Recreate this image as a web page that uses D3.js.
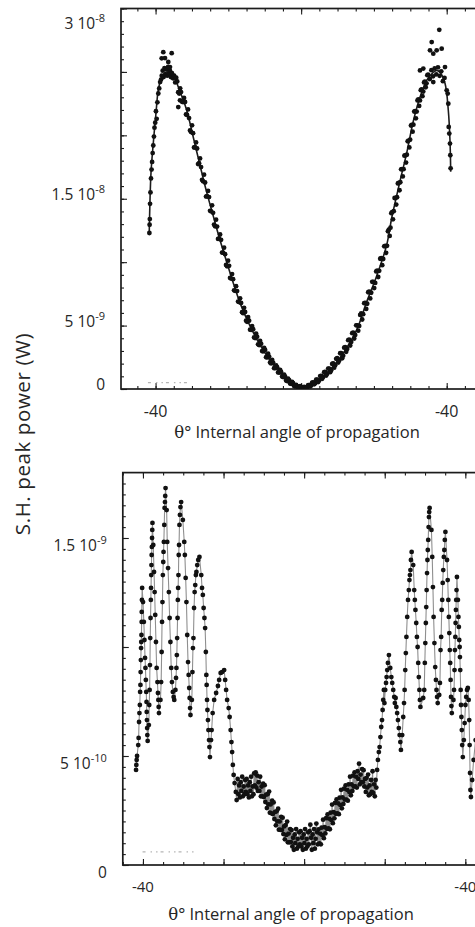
<!DOCTYPE html>
<html>
<head>
<meta charset="utf-8">
<script src="https://cdn.jsdelivr.net/npm/d3@7"></script>
<style>
  html, body { margin: 0; padding: 0; background: #fff; overflow: hidden; }
  svg { display: block; }
  text { font-family: "Open Sans", sans-serif; fill: #262626; }
</style>
</head>
<body>
<svg id="chart" width="475" height="927"></svg>
<script>
// ---------------- data ----------------
// Angle tick labels (both ends of the scan carry the same printed label)
const xTickValues = [-40, 40];
const xTickLabels = ["-40", "-40"];

// Upper panel: power in units of 1e-9 W
const upperUnit = 1e-9;
const upperYTickValues = [0, 5, 15, 30];
const upperYTickLabels = [["0", ""], ["5 10", "-9"], ["1.5 10", "-8"], ["3 10", "-8"]];

// fitted curve
const upperFitAngle = [-41.73,-41.26,-40.63,-39.89,-39.26,-38.32,-36.95,-35.13,-33.76,-31.45,-29.64,-27.80,-25.96,-24.14,-22.30,-20.46,-18.65,-16.80,-14.06,-11.31,-7.65,-3.97,-1.22,1.06,4.27,7.93,11.58,15.27,18.01,20.76,23.51,24.88,25.79,27.16,29.00,30.82,32.66,34.50,36.31,37.24,38.16,39.53,40.44,40.90,41.10];
const upperFitPower = [12.45,17.02,19.38,21.74,23.56,24.59,24.99,24.73,23.81,21.98,19.85,17.65,15.52,13.63,11.74,10.02,8.36,6.79,4.98,3.49,1.91,0.73,0.18,0.06,0.60,1.52,2.83,4.67,6.87,8.91,11.35,13.48,14.66,16.39,18.60,21.11,23.00,24.34,24.97,25.12,24.97,24.10,21.98,19.61,17.12];

// measured points [angle, power]
const upperMeasured = [
  [-41.70,12.30],[-41.64,12.95],[-41.58,13.40],[-41.52,14.60],[-41.40,15.50],[-41.26,16.60],[-41.10,17.30],[-40.95,17.90],[-40.80,18.60],[-40.63,19.20],[-40.45,19.90],[-40.30,20.60],[-40.10,21.00],[-39.90,21.90],[-39.70,21.30],[-39.50,22.60],[-39.25,23.30],[-39.00,23.70],[-38.75,24.20],[-38.50,24.40],[-38.30,24.70],[-38.05,25.10],[-37.80,24.60],[-37.55,25.30],[-37.30,24.80],[-37.05,25.20],[-36.80,24.70],[-36.55,25.40],[-36.30,24.90],[-36.05,25.10],[-35.80,24.60],[-35.50,24.90],[-35.20,24.50],[-34.90,24.70],
  [-38.32,26.07],[-37.88,26.56],[-37.41,26.09],[-36.51,25.78],[-36.04,25.38],[-35.57,26.48],[-33.76,22.23],[-33.29,22.76],
  [-34.60,24.17],[-34.05,24.25],[-33.50,23.30],[-33.00,23.41],[-32.45,22.62],[-31.90,22.63],[-31.35,21.61],[-30.80,21.36],[-30.25,20.26],[-29.70,20.17],[-29.15,19.06],[-28.60,18.96],[-28.05,17.80],[-27.50,17.50],[-26.95,16.37],[-26.40,16.28],[-25.85,15.21],[-25.30,15.13],[-24.75,14.01],[-24.20,13.89],[-23.65,12.83],[-23.10,12.81],[-22.55,11.85],[-22.00,11.76],[-21.45,10.75],[-20.90,10.63],[-20.35,9.67],[-19.80,9.71],[-19.25,8.71],[-18.70,8.66],[-18.15,7.74],[-17.60,7.72],[-17.05,6.85],[-16.50,6.79],[-15.95,5.98],[-15.40,6.07],[-14.85,5.30],[-14.30,5.39],[-13.75,4.66],[-13.20,4.71],[-12.65,4.02],[-12.10,4.12],[-11.55,3.47],[-11.00,3.56],[-10.45,2.97],[-9.90,3.08],[-9.35,2.49],[-8.80,2.56],[-8.25,2.02],[-7.70,2.08],[-7.15,1.65],[-6.60,1.72],[-6.05,1.30],[-5.50,1.34],[-4.95,0.94],[-4.40,0.97],[-3.85,0.63],[-3.30,0.70],[-2.75,0.41],[-2.20,0.46],[-1.65,0.21],[-1.10,0.23],[-0.55,0.10],[0.00,0.16],
  [0.55,0.06],[1.10,0.11],[1.65,0.11],[2.20,0.31],[2.75,0.28],[3.30,0.52],[3.85,0.45],[4.40,0.73],[4.95,0.67],[5.50,1.03],[6.05,0.95],[6.60,1.34],[7.15,1.20],[7.70,1.61],[8.25,1.48],[8.80,2.01],[9.35,1.88],[9.90,2.43],[10.45,2.24],[11.00,2.82],[11.55,2.62],[12.10,3.29],[12.65,3.16],[13.20,3.89],[13.75,3.71],[14.30,4.44],[14.85,4.26],[15.40,5.02],[15.95,4.97],[16.50,5.96],[17.05,5.90],[17.60,6.79],[18.15,6.72],[18.70,7.68],[19.25,7.59],[19.80,8.45],[20.35,8.36],[20.90,9.33],[21.45,9.32],[22.00,10.31],[22.55,10.25],[23.10,11.29],[23.60,11.29],[24.10,12.57],[24.55,12.72],[25.00,13.94],[25.45,14.02],[25.90,15.05],[26.35,15.12],[26.80,16.24],[27.25,16.30],[27.70,17.34],[28.15,17.33],[28.60,18.42],[29.05,18.47],[29.50,19.59],[29.95,19.66],[30.40,20.83],[30.85,20.84],[31.30,21.90],[31.75,21.87],[32.20,22.83],[32.65,22.75],[33.10,23.62],[33.55,23.45],[34.00,24.23],[34.45,24.10],[34.90,24.78],[35.35,24.44],[35.80,25.14],[36.25,24.65],[36.70,25.28],[37.15,24.81],[37.60,25.36],[38.05,24.69],[38.50,25.05],[38.95,24.27],[39.40,24.53],
  [32.66,25.12],[33.57,25.26],[35.41,26.70],[35.88,27.35],[36.31,26.44],[36.31,24.20],[37.25,26.70],[37.96,28.32],[38.62,26.83],[39.53,25.38],
  [40.00,23.55],[40.27,23.29],[40.44,22.50],[40.55,20.66],[40.71,20.14],[40.90,19.35],[40.99,18.43],[41.08,17.40]
];

// intermediate samples along both branches
const upperMeasuredMid = [
  [-34.33,24.54],[-33.78,23.40],[-33.25,23.71],[-32.73,22.64],[-32.18,22.95],[-31.63,21.65],[-31.08,22.04],[-30.53,20.39],[-29.98,20.79],[-29.43,19.04],[-28.88,19.44],[-28.33,17.73],[-27.78,18.18],[-27.23,16.49],[-26.68,16.90],[-26.13,15.17],[-25.58,15.62],[-25.03,14.05],[-24.48,14.48],[-23.93,12.96],[-23.38,13.35],[-22.83,11.83],[-22.28,12.18],[-21.73,10.76],[-21.18,11.14],[-20.63,9.78],[-20.08,10.12],[-19.53,8.76],[-18.98,9.06],[-18.43,7.78],[-17.88,8.11],[-17.33,6.89],[-16.78,7.15],[-16.23,6.06],[-15.68,6.40],[-15.13,5.39],[-14.58,5.67],[-14.03,4.68],[-13.48,4.96],[-12.93,4.07],[-12.38,4.37],[-11.83,3.52],[-11.28,3.79],[-10.73,2.99],[-10.18,3.25],[-9.63,2.51],[-9.08,2.78],[-8.53,2.09],[-7.98,2.30],[-7.43,1.64],[-6.88,1.86],[-6.33,1.31],[-5.78,1.51],[-5.23,0.98],[-4.68,1.14],[-4.13,0.67],[-3.58,0.81],[-3.03,0.43],[-2.48,0.56],[-1.93,0.23],[-1.38,0.32],[-0.83,0.08],[-0.28,0.22],
  [0.28,0.05],[0.83,0.16],[1.38,0.05],[1.93,0.31],[2.48,0.20],[3.03,0.51],[3.58,0.37],[4.13,0.73],[4.68,0.55],[5.23,1.02],[5.78,0.80],[6.33,1.32],[6.88,1.06],[7.43,1.61],[7.98,1.33],[8.53,1.98],[9.08,1.68],[9.63,2.38],[10.18,2.08],[10.73,2.82],[11.28,2.42],[11.83,3.26],[12.38,2.93],[12.93,3.85],[13.48,3.43],[14.03,4.40],[14.58,3.98],[15.13,5.02],[15.68,4.60],[16.23,5.84],[16.78,5.48],[17.33,6.77],[17.88,6.31],[18.43,7.63],[18.98,7.14],[19.53,8.45],[20.08,7.96],[20.63,9.27],[21.18,8.83],[21.73,10.27],[22.28,9.76],[22.83,11.25],[23.35,10.74],[23.85,12.43],[24.33,12.07],[24.78,13.86],[25.23,13.38],[25.68,15.06],[26.13,14.54],[26.58,16.21],[27.03,15.67],[27.48,17.32],[27.93,16.76],[28.38,18.40],[28.83,17.85],[29.28,19.53],[29.73,19.05],[30.18,20.77],[30.63,20.29],[31.08,21.87],[31.53,21.34],[31.98,22.75],[32.43,22.32],[32.88,23.56],[33.33,23.09],[33.78,24.17],[34.23,23.79],[34.68,24.74]
];

// faint reference dashes near the floor: [from angle, to angle, level]
const upperFloor = [-42.1, -30.3, 0.5];

// Lower panel: power in units of 1e-10 W
const lowerUnit = 1e-10;
const lowerYTickValues = [0, 5, 15];
const lowerYTickLabels = [["0", ""], ["5 10", "-10"], ["1.5 10", "-9"]];

// angular scan [angle, power], in scan order
const lowerScan = [
  [-41.71,4.36],[-41.64,4.59],[-41.56,4.82],[-41.46,5.00],[-41.17,5.50],[-41.07,5.83],[-40.97,6.56],[-40.87,6.97],[-40.77,7.34],[-40.70,7.94],[-40.62,8.26],[-40.57,8.85],[-40.52,9.40],[-40.47,9.95],[-40.42,10.23],[-40.37,10.55],[-40.32,11.15],[-40.30,11.61],[-40.25,12.16],[-40.20,12.71],
  [-39.98,12.06],[-39.78,11.15],[-39.63,10.32],[-39.48,9.50],[-39.38,9.04],[-39.28,8.49],[-39.18,7.94],[-39.11,7.48],[-39.06,7.02],[-39.01,6.65],[-38.96,6.28],[-38.91,5.96],[-38.83,5.69],
  [-38.54,6.42],[-38.44,7.34],[-38.34,8.03],[-38.26,9.17],[-38.19,10.41],[-38.11,11.33],[-38.04,12.16],[-37.99,12.71],[-37.94,13.30],[-37.89,13.76],[-37.84,14.22],[-37.79,14.59],[-37.74,15.00],[-37.69,15.37],[-37.64,15.69],
  [-37.44,14.68],[-37.25,13.44],[-37.10,12.52],[-36.95,11.47],[-36.77,10.23],[-36.60,9.04],[-36.40,8.39],[-36.28,7.89],[-36.18,7.57],[-36.10,7.25],[-36.03,6.97],
  [-35.66,7.57],[-35.48,8.39],[-35.36,9.77],[-35.26,11.15],[-35.16,12.06],[-35.06,13.30],[-34.96,13.90],[-34.89,14.36],[-34.81,14.82],[-34.71,15.60],[-34.62,16.38],[-34.54,16.65],[-34.47,16.93],[-34.39,17.29],
  [-34.12,16.28],[-33.97,14.82],[-33.77,13.62],[-33.57,12.52],[-33.38,11.33],[-33.18,10.23],[-32.98,9.04],[-32.80,8.39],[-32.58,7.94],[-32.38,7.71],[-32.23,7.57],
  [-31.94,8.03],[-31.79,8.58],[-31.69,9.04],[-31.59,9.63],[-31.51,10.41],[-31.41,11.33],[-31.34,12.16],[-31.27,12.71],[-31.19,13.30],[-31.12,14.22],[-31.04,14.68],[-30.94,15.60],[-30.82,16.06],[-30.69,16.42],[-30.52,16.65],
  [-30.10,15.83],[-29.75,14.82],[-29.60,14.22],[-29.40,13.17],[-29.21,12.06],[-29.01,10.55],[-28.81,9.31],[-28.66,8.72],[-28.51,8.12],[-28.41,7.66],[-28.31,7.20],[-28.21,6.88],
  [-27.87,7.57],[-27.72,8.85],[-27.59,9.95],[-27.47,10.41],[-27.32,11.79],[-27.17,12.52],[-27.02,12.84],[-26.87,13.30],[-26.73,13.44],[-26.53,13.76],[-26.28,13.99],[-25.98,14.13],
  [-25.53,13.30],[-25.34,12.71],[-25.14,12.39],[-24.94,11.79],[-24.74,11.33],[-24.57,10.87],[-24.39,9.77],[-24.27,8.72],[-24.19,8.26],[-24.09,7.57],[-24.00,7.11],[-23.87,6.65],[-23.75,6.19],[-23.60,5.73],[-23.50,5.41],[-23.37,4.95],
  [-23.10,5.73],[-22.95,6.19],[-22.70,6.97],[-22.33,7.57],[-21.84,7.89],[-21.39,8.21],[-21.09,8.49],[-20.72,8.81],[-20.35,8.85],[-19.85,8.94],[-19.60,8.49],[-19.36,8.03],[-19.11,7.57],[-18.73,7.20],[-18.49,6.79],[-18.24,6.19],[-18.04,5.64],[-17.87,5.18],[-17.69,4.59],[-17.49,4.13],[-17.25,3.76],[-16.95,3.35],[-16.75,2.98],
  [-16.50,3.95],[-16.31,3.25],[-16.13,3.65],[-15.94,3.10],[-15.76,3.80],[-15.57,3.40],[-15.38,4.05],[-15.20,3.15],[-15.01,3.60],[-14.82,3.25],[-14.64,3.90],[-14.45,3.35],[-14.27,3.95],[-14.08,3.25],[-13.90,3.65],[-13.71,3.10],[-13.52,3.80],[-13.34,3.40],[-13.15,4.05],[-12.96,3.15],[-12.78,3.60],[-12.59,3.25],[-12.41,4.20],[-12.22,3.65],[-12.03,4.25],[-11.85,3.55],[-11.66,4.10],[-11.48,3.40],[-11.29,3.80],[-11.10,3.40],[-10.92,4.05],[-10.73,3.15],[-10.55,3.60],
  [-10.36,3.15],[-10.17,3.73],[-9.99,3.12],[-9.80,3.66],[-9.62,2.89],[-9.43,3.23],[-9.24,2.61],[-9.06,3.25],[-8.87,2.78],[-8.69,3.37],[-8.50,2.40],[-8.31,2.78],[-8.13,2.37],[-7.94,2.95],[-7.76,2.34],[-7.57,2.87],[-7.38,2.11],[-7.20,2.44],[-7.01,1.82],[-6.83,2.46],[-6.64,2.00],[-6.45,2.58],[-6.27,1.62],[-6.08,2.00],
  [-5.90,1.61],[-5.71,2.21],[-5.52,1.61],[-5.34,2.17],[-5.15,1.42],[-4.97,1.77],[-4.78,1.18],[-4.59,1.83],[-4.41,1.38],[-4.22,1.99],[-4.04,1.04],[-3.85,1.44],[-3.66,1.04],[-3.48,1.65],[-3.29,1.05],[-3.11,1.60],
  [-2.92,0.85],[-2.73,1.25],[-2.55,0.70],[-2.36,1.40],[-2.18,1.00],[-1.99,1.65],[-1.80,0.75],[-1.62,1.20],[-1.43,0.85],[-1.25,1.50],[-1.06,0.95],[-0.87,1.55],[-0.69,0.85],[-0.50,1.25],[-0.32,0.70],[-0.13,1.40],[0.06,1.00],[0.24,1.65],[0.43,0.75],[0.61,1.20],[0.80,0.85],[0.99,1.50],[1.17,0.95],[1.36,1.55],[1.54,1.85],[1.73,1.25],[1.92,0.70],[2.10,1.40],[2.29,1.00],[2.47,1.65],[2.66,0.75],[2.85,1.20],[3.03,1.90],[3.22,1.50],[3.40,0.95],
  [3.59,1.63],[3.78,0.99],[3.96,1.44],[4.15,0.95],[4.33,1.71],[4.52,1.37],[4.71,2.08],[4.89,1.23],[5.08,1.74],[5.26,1.45],[5.45,2.15],[5.64,1.66],[5.82,2.32],[6.01,1.68],[6.19,2.13],[6.38,1.64],[6.57,2.40],[6.75,2.06],[6.94,2.77],[7.12,1.92],[7.31,2.43],[7.50,2.14],[7.68,2.85],[7.87,2.35],[8.05,3.01],[8.24,2.37],[8.43,2.83],[8.61,2.33],[8.80,3.09],[8.98,2.75],
  [9.17,3.45],[9.36,2.60],[9.54,3.10],[9.73,2.80],[9.91,3.50],[10.10,3.00],[10.29,3.65],[10.47,3.00],[10.66,3.45],[10.84,2.95],[11.03,3.70],[11.22,3.35],[11.40,4.05],[11.59,3.20],[11.77,3.70],[11.96,3.40],[12.15,4.10],[12.33,3.60],[12.52,4.25],[12.70,3.60],[12.89,4.05],[13.08,3.55],[13.26,4.30],[13.45,3.95],[13.63,4.65],
  [13.82,3.70],[14.01,4.15],[14.19,3.80],[14.38,4.40],[14.56,3.80],[14.75,4.35],[14.94,3.60],[15.12,3.95],[15.31,3.35],[15.49,4.00],[15.68,3.55],[15.87,4.15],[16.05,3.20],[16.24,3.65],[16.42,3.25],[16.61,3.90],[16.80,3.35],[16.98,4.30],[17.17,3.30],[17.35,3.70],[17.54,3.15],[17.73,3.90],[17.91,3.55],
  [18.11,4.36],[18.31,4.82],[18.54,5.18],[18.73,5.41],[18.93,5.87],[19.13,6.33],[19.33,6.65],[19.48,7.11],[19.63,7.57],[19.78,8.03],[19.93,7.43],[20.12,8.03],[20.32,8.35],[20.47,8.62],[20.62,8.94],[20.79,9.27],[21.04,9.63],
  [21.37,9.04],[21.64,8.62],[21.86,8.35],[22.11,8.03],[22.36,7.71],[22.51,7.43],[22.70,7.66],[22.88,7.25],[23.08,6.97],[23.28,6.65],[23.50,6.28],[23.70,5.96],[23.87,5.64],[24.02,5.28],
  [24.34,5.96],[24.59,6.79],[24.79,7.43],[24.94,8.03],[25.09,8.94],[25.24,9.72],[25.38,10.46],[25.58,11.38],[25.78,12.16],[25.98,12.61],[26.13,13.07],[26.25,13.30],[26.38,13.53],[26.50,13.99],[26.68,14.36],
  [27.07,13.76],[27.32,12.61],[27.47,12.16],[27.62,11.70],[27.82,11.10],[27.99,10.46],[28.16,10.00],[28.31,9.27],[28.46,8.62],[28.61,8.03],[28.73,7.57],[28.86,7.25],
  [29.55,7.66],[29.80,8.03],[29.95,9.27],[30.07,10.18],[30.20,11.10],[30.30,11.83],[30.40,12.61],[30.50,13.39],[30.60,13.99],[30.69,14.45],[30.79,14.91],[30.89,15.50],[30.97,15.96],[31.04,16.19],[31.14,16.38],
  [31.59,15.37],[31.79,14.13],[31.96,12.75],[32.13,11.38],[32.33,10.18],[32.53,9.08],[32.71,8.49],[32.85,8.03],[33.00,7.71],[33.15,7.43],
  [33.52,7.80],[33.70,8.35],[33.85,9.86],[34.00,10.46],[34.14,11.70],[34.27,12.16],[34.39,12.94],[34.52,13.53],[34.67,14.13],[34.79,14.45],[34.91,14.91],[35.06,15.28],
  [35.46,13.99],[35.63,13.07],[35.78,12.16],[35.91,11.38],[36.03,10.64],[36.15,9.86],[36.25,9.27],[36.35,8.49],[36.45,7.71],[36.55,7.29],[36.65,6.97],
  [37.05,7.57],[37.20,8.03],[37.32,8.94],[37.42,9.86],[37.52,10.46],[37.59,11.10],[37.67,11.70],[37.74,12.16],[37.82,12.61],[37.92,13.21],
  [38.16,12.16],[38.29,11.38],[38.39,10.92],[38.49,10.32],[38.59,10.00],[38.66,9.54],[38.74,8.94],[38.84,8.03],[38.93,7.34],[39.03,6.79],[39.13,6.19],[39.23,5.50],[39.38,4.95],
  [39.63,5.73],[39.83,6.51],[40.03,7.34],[40.22,7.71],[40.42,8.03],[40.62,8.12],[40.82,7.57],[40.97,6.65],[41.07,5.50],[41.17,4.22],[41.27,3.44],[41.39,3.12],[41.69,3.90],[42.06,4.82],[42.56,5.73]
];

const lowerFloor = [-40.1, -26.7, 0.6];

const xTitle = "Internal angle of propagation";
const yTitle = "S.H. peak power (W)";

// ---------------- drawing ----------------
const svg = d3.select("#chart");
const defs = svg.append("defs");
const INK = "#1c1c1c";
const DOT_R = 2.4;

function drawPanel(p) {
  const x = d3.scaleLinear().domain(p.xDomain).range(p.xRange);
  const y = d3.scaleLinear().domain(p.yDomain).range(p.yRange);
  const [x0, x1] = p.xRange;
  const [yb, yt] = p.yRange;
  const g = svg.append("g");

  const clipId = "clip-" + p.key;
  defs.append("clipPath").attr("id", clipId).append("rect")
    .attr("x", x0).attr("y", yt).attr("width", x1 - x0).attr("height", yb - yt);

  // inward tick marks on all four sides
  function ticks(axisFn, scale, values, size, transform) {
    g.append("g").attr("transform", transform)
      .call(axisFn(scale).tickValues(values).tickSizeInner(size).tickSizeOuter(0).tickFormat(""))
      .call(s => s.select(".domain").remove())
      .call(s => s.selectAll(".tick line").attr("stroke", INK).attr("stroke-width", 1.1));
  }
  ticks(d3.axisBottom, x, p.xMinor, -3, `translate(0,${yb})`);
  ticks(d3.axisBottom, x, p.xMajor, -6, `translate(0,${yb})`);
  ticks(d3.axisTop, x, p.xMinor, -3, `translate(0,${yt})`);
  ticks(d3.axisTop, x, p.xMajor, -6, `translate(0,${yt})`);
  ticks(d3.axisLeft, y, p.yMinor, -3, `translate(${x0},0)`);
  ticks(d3.axisLeft, y, p.yMajor, -6, `translate(${x0},0)`);

  // frame
  g.append("rect")
    .attr("x", x0).attr("y", yt).attr("width", x1 - x0).attr("height", yb - yt)
    .attr("fill", "none").attr("stroke", INK).attr("stroke-width", 1.7);

  const plot = g.append("g").attr("clip-path", `url(#${clipId})`);

  // faint floor dashes
  plot.append("line")
    .attr("x1", x(p.floor[0])).attr("x2", x(p.floor[1]))
    .attr("y1", y(p.floor[2] * p.unit)).attr("y2", y(p.floor[2] * p.unit))
    .attr("stroke", "#b5b5b5").attr("stroke-width", 1.3)
    .attr("stroke-dasharray", "3 5 1.5 4 1.5 3");

  p.drawMarks(plot, x, y);

  // y tick labels (mantissa + superscript exponent)
  p.yTickValues.forEach((v, i) => {
    const [base, exp] = p.yTickLabels[i];
    const t = g.append("text")
      .attr("x", x0 - p.yLabelGap)
      .attr("y", Math.max(y(v * p.unit) + p.yLabelDy, p.yLabelMinY))
      .attr("text-anchor", "end")
      .style("font-size", "15.5px");
    t.append("tspan").text(base);
    if (exp) {
      t.append("tspan").attr("dy", -7).style("font-size", "11px").text(exp);
    }
  });

  // x tick labels
  xTickValues.forEach((v, i) => {
    g.append("text")
      .attr("x", x(v)).attr("y", yb + p.xLabelDy)
      .attr("text-anchor", "middle")
      .style("font-size", p.xLabelSize)
      .text(xTickLabels[i]);
  });

  // x axis title
  const tt = g.append("text")
    .attr("x", p.titleX).attr("y", yb + p.titleDy)
    .attr("text-anchor", "middle")
    .style("font-size", "16.5px");
  tt.append("tspan").style("font-family", '"DejaVu Serif", "Liberation Serif", serif').text("θ");
  tt.append("tspan").text("° " + xTitle);
}

// upper panel: measured points with fitted curve
drawPanel({
  key: "upper",
  unit: upperUnit,
  xDomain: [-49.5, 49.15], xRange: [121, 480],
  yDomain: [0, 30 * upperUnit], yRange: [389, 8.5],
  xMinor: d3.range(-45, 50, 5), xMajor: [-40, 0, 40],
  yMinor: d3.range(0, 31).map(d => d * upperUnit),
  yMajor: d3.range(0, 31, 5).map(d => d * upperUnit),
  yTickValues: upperYTickValues, yTickLabels: upperYTickLabels,
  yLabelGap: 16, yLabelDy: 1, yLabelMinY: 29,
  xLabelDy: 28, xLabelSize: "16px",
  titleX: 297, titleDy: 49,
  floor: upperFloor,
  drawMarks(plot, x, y) {
    const fit = upperFitAngle.map((a, i) => [a, upperFitPower[i]]);
    plot.append("path")
      .datum(fit)
      .attr("fill", "none").attr("stroke", INK).attr("stroke-width", 1.6)
      .attr("d", d3.line().x(d => x(d[0])).y(d => y(d[1] * upperUnit)).curve(d3.curveCatmullRom.alpha(0.5)));
    plot.selectAll("circle.m").data(upperMeasured.concat(upperMeasuredMid)).join("circle")
      .attr("class", "m")
      .attr("cx", d => x(d[0])).attr("cy", d => y(d[1] * upperUnit))
      .attr("r", DOT_R).attr("fill", "#111");
  }
});

// lower panel: scan points joined by a thin grey trace
drawPanel({
  key: "lower",
  unit: lowerUnit,
  xDomain: [-45, 46], xRange: [122.8, 489.5],
  yDomain: [0, 18 * lowerUnit], yRange: [865, 472.6],
  xMinor: d3.range(-45, 50, 5), xMajor: [-40, -20, 0, 20, 40],
  yMinor: d3.range(0, 36).map(d => d * 0.5 * lowerUnit),
  yMajor: d3.range(0, 16, 5).map(d => d * lowerUnit),
  yTickValues: lowerYTickValues, yTickLabels: lowerYTickLabels,
  yLabelGap: 16, yLabelDy: 13, yLabelMinY: 0,
  xLabelDy: 27, xLabelSize: "15px",
  titleX: 291, titleDy: 55,
  floor: lowerFloor,
  drawMarks(plot, x, y) {
    plot.append("path")
      .datum(lowerScan)
      .attr("fill", "none").attr("stroke", "#8f8f8f").attr("stroke-width", 1.1)
      .attr("d", d3.line().x(d => x(d[0])).y(d => y(d[1] * lowerUnit)));
    plot.selectAll("circle.s").data(lowerScan).join("circle")
      .attr("class", "s")
      .attr("cx", d => x(d[0])).attr("cy", d => y(d[1] * lowerUnit))
      .attr("r", DOT_R).attr("fill", "#111");
  }
});

// shared y title
svg.append("text")
  .attr("transform", "translate(30,434) rotate(-90)")
  .attr("text-anchor", "middle")
  .style("font-size", "20.5px")
  .style("letter-spacing", "0.6px")
  .text(yTitle);
</script>
</body>
</html>
